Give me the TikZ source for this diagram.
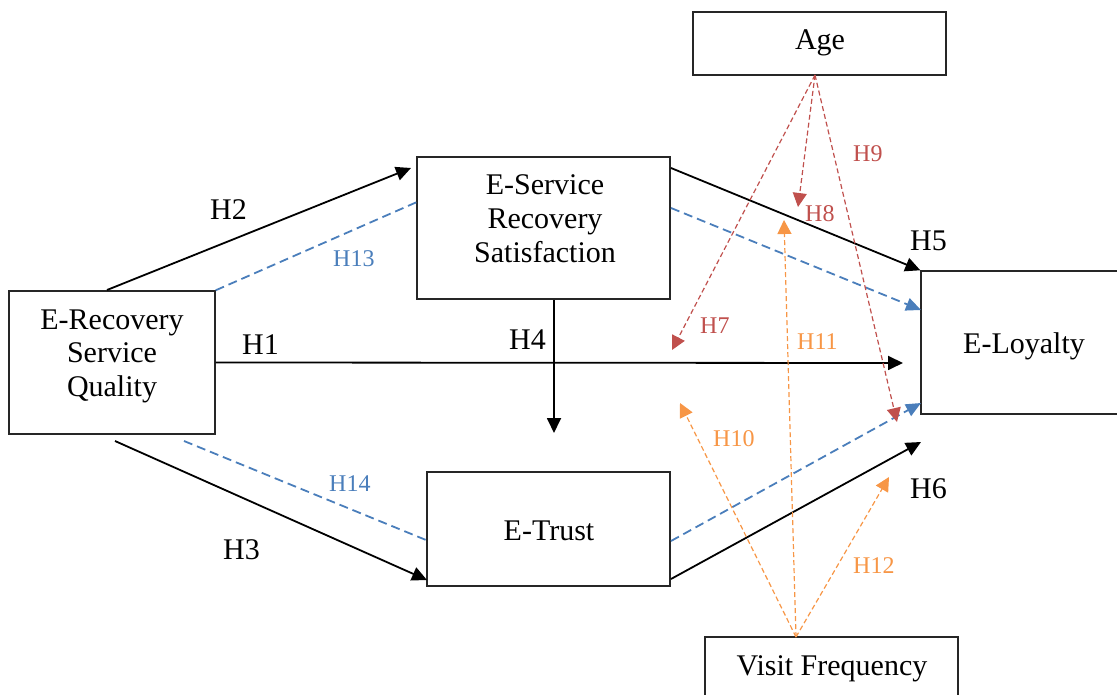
\documentclass[tikz,border=0pt]{standalone}
\usepackage{fontspec}
\setmainfont{Liberation Serif}
\usetikzlibrary{arrows.meta}
\definecolor{hblue}{HTML}{4A7EBB}
\definecolor{hred}{HTML}{C0504D}
\definecolor{horange}{HTML}{F79646}
\begin{document}
\begin{tikzpicture}[x=1pt,y=-1pt,
  box/.style={draw=black!85, line width=1.4pt, inner sep=0pt},
  big/.style={font=\fontsize{30}{33}\selectfont, inner sep=0pt, anchor=base},
  lab/.style={font=\fontsize{30}{33}\selectfont, inner sep=0pt, anchor=base west},
  slab/.style={font=\fontsize{24}{28}\selectfont, inner sep=0pt, anchor=base west},
  mainarr/.style={line width=1.8pt, -{Triangle[length=15pt,width=14pt]}},
  mainline/.style={line width=1.8pt},
  bluedash/.style={hblue, line width=1.8pt, dash pattern=on 9pt off 5pt},
  bluearr/.style={bluedash, -{Triangle[length=15pt,width=13pt]}},
  redarr/.style={hred, line width=1.2pt, dash pattern=on 5pt off 3pt, -{Triangle[length=14pt,width=14pt]}},
  orarr/.style={horange, line width=1.2pt, dash pattern=on 5pt off 3pt, -{Triangle[length=14pt,width=14pt]}}
]
\useasboundingbox (0,0) rectangle (1117,695);

% boxes
\node[box, minimum width=206pt, minimum height=143pt] (ersq) at (112,362.5) {};
\node[box, minimum width=253pt, minimum height=142pt] (esrs) at (543.5,228) {};
\node[box, minimum width=243pt, minimum height=114pt] (etrust) at (548.5,529) {};
\node[box, minimum width=209pt, minimum height=143pt] (eloy) at (1025.5,342.5) {};
\node[box, minimum width=253pt, minimum height=63pt] (age) at (819.5,43.5) {};
\node[box, minimum width=253pt, minimum height=73pt] (visit) at (831.5,673.5) {};

% box texts
\node[big] (t1a) at (112,329) {E-Recovery};
\node[big] (t1b) at (112,362) {Service};
\node[big] (t1c) at (112,396) {Quality};
\node[big] (t2a) at (545,195) {E-Service};
\node[big] (t2b) at (545,229) {Recovery};
\node[big] (t2c) at (545,262) {Satisfaction};
\node[big] (t3) at (549,540) {E-Trust};
\node[big] (t4) at (1024,353) {E-Loyalty};
\node[big] (t5) at (820,50) {Age};
\node[big] (t6) at (832,675) {Visit Frequency};

% coordinates
\coordinate (h2s) at (107,290);
\coordinate (h2e) at (411,168);
\coordinate (h13e) at (417,202);
\coordinate (h1e) at (903,363);
\coordinate (h4s) at (554,300);
\coordinate (h4e) at (554,433);
\coordinate (h3s) at (115,441);
\coordinate (h3e) at (427,580);
\coordinate (h14s) at (184,441);
\coordinate (h14e) at (426,540);
\coordinate (h5s) at (671,168);
\coordinate (b1s) at (671,208);
\coordinate (b1e) at (921,310);
\coordinate (h6s) at (671,579);
\coordinate (h6e) at (921,442);
\coordinate (b2s) at (671,541);
\coordinate (b2e) at (921,403);
\coordinate (ao) at (815,75);
\coordinate (h7e) at (672,350);
\coordinate (h8e) at (798,207);
\coordinate (h9e) at (897,422);
\coordinate (vo) at (796,637);
\coordinate (h10e) at (680,403);
\coordinate (h11e) at (784,220);
\coordinate (h12e) at (889,477);

% blue dashed
\draw[bluedash] (ersq.north east) -- (h13e);
\draw[bluedash] (h14s) -- (h14e);
\draw[bluearr] (b1s) -- (b1e);
\draw[bluearr] (b2s) -- (b2e);

% black
\draw[mainarr] (h2s) -- (h2e);
\draw[mainarr] (ersq.east) -- (h1e);
\draw[mainarr] (h4s) -- (h4e);
\draw[mainarr] (h3s) -- (h3e);
\draw[mainarr] (h5s) -- (eloy.north west);
\draw[mainarr] (h6s) -- (h6e);

% age (red)
\draw[redarr] (ao) -- (h7e);
\draw[redarr] (ao) -- (h8e);
\draw[redarr] (ao) -- (h9e);

% visit frequency (orange)
\draw[orarr] (vo) -- (h10e);
\draw[orarr] (vo) -- (h11e);
\draw[orarr] (vo) -- (h12e);

% labels
\node[lab] (l2) at (210,220) {H2};
\node[lab] (l1) at (242,354) {H1};
\node[lab] (l4) at (509,349) {H4};
\node[lab] (l3) at (223,559) {H3};
\node[lab] (l5) at (910,251) {H5};
\node[lab] (l6) at (910,498) {H6};
\node[slab, text=hblue] (l13) at (333,266) {H13};
\node[slab, text=hblue] (l14) at (329,491) {H14};
\node[slab, text=hred] (l9) at (853,162) {H9};
\node[slab, text=hred] (l8) at (805,222) {H8};
\node[slab, text=hred] (l7) at (700,333) {H7};
\node[slab, text=horange] (l11) at (797,349) {H11};
\node[slab, text=horange] (l10) at (713,446) {H10};
\node[slab, text=horange] (l12) at (853,573) {H12};
\end{tikzpicture}
\end{document}
